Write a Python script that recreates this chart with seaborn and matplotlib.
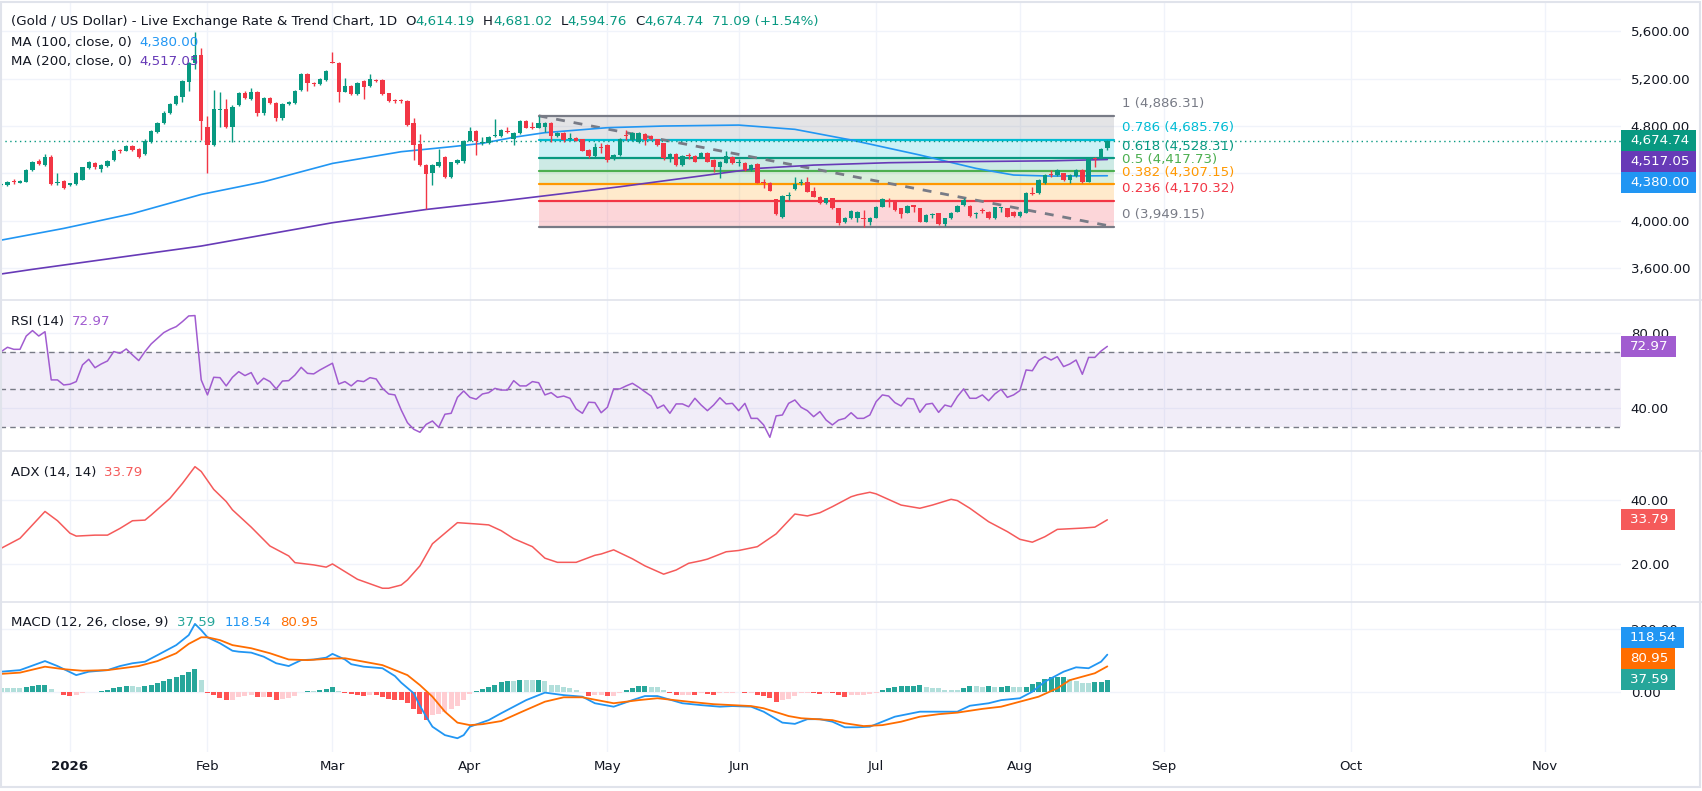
import numpy as np
import pandas as pd
import matplotlib
matplotlib.use("Agg")
import matplotlib.pyplot as plt
from matplotlib.lines import Line2D
from matplotlib.patches import Rectangle
import seaborn as sns

# ---- values: gold / USD, daily bars ----
first_day = "2025-12-17"
last_day = "2026-08-21"

opens = [
    4305, 4301, 4332, 4321, 4330, 4428, 4507, 4472, 4541, 4320,
    4338, 4300, 4310, 4345, 4442, 4490, 4440, 4462, 4512, 4595,
    4591, 4631, 4608, 4560, 4667, 4752, 4822, 4907, 4986, 5048,
    5169, 5329, 5400, 4794, 4639, 4935, 4941, 4794, 4977, 5081,
    5028, 5084, 4912, 5039, 4991, 4865, 4990, 4997, 5104, 5239,
    5160, 5152, 5188, 5345, 5335, 5090, 5138, 5070, 5183, 5138,
    5190, 5188, 5076, 5015, 5011, 5011, 4822, 4645, 4470, 4405,
    4462, 4541, 4372, 4490, 4507, 4676, 4757, 4653, 4659, 4715,
    4718, 4755, 4687, 4738, 4845, 4792, 4786, 4790, 4828, 4718,
    4744, 4690, 4701, 4687, 4597, 4546, 4620, 4639, 4518, 4555,
    4728, 4682, 4668, 4732, 4716, 4687, 4654, 4527, 4563, 4470,
    4549, 4546, 4541, 4575, 4513, 4451, 4490, 4541, 4487, 4490,
    4428, 4479, 4325, 4321, 4180, 4028, 4210, 4265, 4322, 4330,
    4254, 4203, 4146, 4189, 4104, 3986, 4020, 4020, 4024, 3992,
    4025, 4118, 4165, 4161, 4104, 4068, 4126, 4104, 3992, 4045,
    4062, 3969, 4020, 4076, 4132, 4124, 4053, 4088, 4076, 4020,
    4110, 4104, 4076, 4039, 4068, 4234, 4231, 4315, 4390, 4386,
    4400, 4344, 4377, 4428, 4330, 4530, 4527, 4614.19,
]
highs = [
    4318, 4335, 4350, 4348, 4440, 4505, 4520, 4560, 4555, 4400,
    4345, 4322, 4410, 4455, 4505, 4500, 4480, 4515, 4610, 4610,
    4640, 4640, 4615, 4690, 4770, 4830, 4930, 4995, 5060, 5190,
    5345, 5597, 5456, 4884, 5104, 5090, 5028, 4975, 5090, 5095,
    5118, 5095, 5048, 5048, 5000, 4995, 5010, 5105, 5250, 5250,
    5170, 5205, 5275, 5422, 5340, 5210, 5145, 5170, 5190, 5239,
    5200, 5200, 5080, 5028, 5025, 5020, 4865, 4732, 4480, 4478,
    4603, 4550, 4500, 4525, 4685, 4794, 4765, 4710, 4712, 4856,
    4775, 4794, 4750, 4855, 4850, 4837, 4886.31, 4835, 4835, 4752,
    4750, 4738, 4708, 4692, 4602, 4654, 4654, 4645, 4560, 4695,
    4766, 4752, 4752, 4738, 4722, 4692, 4660, 4570, 4570, 4552,
    4575, 4552, 4582, 4580, 4520, 4505, 4592, 4548, 4518, 4495,
    4480, 4485, 4349, 4328, 4185, 4217, 4245, 4366, 4349, 4372,
    4287, 4208, 4195, 4195, 4110, 4028, 4092, 4082, 4090, 4028,
    4125, 4189, 4189, 4168, 4110, 4130, 4132, 4110, 4055, 4068,
    4068, 4026, 4075, 4132, 4189, 4130, 4076, 4104, 4082, 4118,
    4118, 4110, 4082, 4082, 4245, 4287, 4350, 4392, 4428, 4435,
    4405, 4392, 4435, 4435, 4535, 4541, 4618, 4681.02,
]
lows = [
    4295, 4296, 4312, 4315, 4325, 4420, 4472, 4465, 4300, 4305,
    4268, 4292, 4305, 4340, 4435, 4440, 4414, 4455, 4505, 4575,
    4585, 4590, 4530, 4555, 4660, 4745, 4815, 4900, 4980, 5005,
    5100, 5280, 4681, 4400, 4630, 4794, 4780, 4667, 4970, 5025,
    5020, 4884, 4893, 4985, 4845, 4855, 4980, 4990, 5098, 5098,
    5140, 5145, 5180, 5329, 5005, 5085, 5060, 5062, 5025, 5130,
    5170, 5060, 5005, 4997, 4995, 4800, 4512, 4460, 4095, 4301,
    4455, 4360, 4365, 4480, 4484, 4670, 4555, 4640, 4650, 4705,
    4710, 4738, 4639, 4730, 4780, 4775, 4780, 4752, 4668, 4710,
    4668, 4685, 4670, 4585, 4527, 4540, 4569, 4499, 4510, 4550,
    4682, 4676, 4660, 4639, 4680, 4632, 4513, 4499, 4465, 4462,
    4518, 4495, 4535, 4495, 4414, 4363, 4485, 4480, 4462, 4422,
    4420, 4315, 4273, 4248, 4050, 4020, 4175, 4258, 4301, 4240,
    4198, 4140, 4140, 4100, 3963, 3980, 4015, 3992, 3949.15, 3963,
    4020, 4112, 4118, 4085, 4020, 4062, 4076, 3986, 3986, 4020,
    3963, 3955, 4015, 4070, 4126, 4034, 4020, 4062, 4015, 4015,
    4076, 4028, 4034, 4034, 4062, 4217, 4225, 4310, 4366, 4380,
    4338, 4315, 4370, 4322, 4325, 4456, 4520, 4594.76,
]
closes = [
    4312, 4327, 4325, 4338, 4428, 4496, 4480, 4541, 4310, 4330,
    4273, 4315, 4400, 4450, 4498, 4450, 4473, 4507, 4591, 4585,
    4631, 4597, 4541, 4676, 4760, 4822, 4912, 4986, 5053, 5183,
    5329, 5400, 4845, 4639, 4943, 4943, 4794, 4963, 5081, 5034,
    5087, 4912, 5039, 4991, 4865, 4986, 4997, 5098, 5239, 5160,
    5155, 5197, 5265, 5335, 5090, 5138, 5070, 5160, 5132, 5197,
    5180, 5070, 5014, 5008, 5008, 4808, 4639, 4470, 4394, 4470,
    4498, 4372, 4493, 4512, 4676, 4757, 4676, 4660, 4704, 4724,
    4766, 4748, 4744, 4845, 4786, 4786, 4828, 4826, 4716, 4744,
    4682, 4698, 4676, 4592, 4549, 4620, 4615, 4513, 4555, 4687,
    4718, 4738, 4744, 4682, 4687, 4639, 4527, 4563, 4470, 4546,
    4543, 4499, 4575, 4499, 4451, 4499, 4546, 4485, 4492, 4428,
    4473, 4321, 4318, 4254, 4056, 4208, 4216, 4310, 4326, 4245,
    4203, 4146, 4189, 4104, 3983, 4020, 4085, 4076, 4018, 4020,
    4118, 4180, 4158, 4090, 4056, 4124, 4120, 3992, 4048, 4050,
    3969, 4020, 4068, 4124, 4175, 4039, 4058, 4082, 4020, 4113,
    4115, 4034, 4039, 4076, 4237, 4228, 4344, 4386, 4384, 4428,
    4344, 4386, 4428, 4330, 4527, 4522, 4603.65, 4674.74,
]

# moving averages, sampled at bar numbers (0 = first bar shown)
ma100_bar = [0, 10, 21, 32, 42, 53, 64, 72, 77, 82, 87, 97, 106, 118, 127, 136, 147, 156, 162, 168, 177]
ma100_val = [3836, 3935, 4060, 4222, 4329, 4484, 4583, 4625, 4654, 4705, 4744, 4786, 4800, 4808, 4772,
             4682, 4555, 4442, 4386, 4377, 4380.00]
ma200_bar = [0, 5, 32, 53, 68, 80, 99, 121, 130, 142, 154, 168, 177]
ma200_val = [3550, 3589, 3786, 3983, 4095, 4166, 4287, 4442, 4470, 4490, 4499, 4506, 4517.05]

# fibonacci retracement drawn on the chart
fib_high = 4886.31
fib_low = 3949.15
fib_ratios = [1, 0.786, 0.618, 0.5, 0.382, 0.236, 0]
fib_from_bar = 86
fib_to_bar = 178

rsi = [
    70.2, 72.5, 71.4, 71.4, 78.5, 81.4, 78.5, 80.8, 55.1, 55.1,
    52.4, 52.8, 54.2, 63.1, 66.1, 61.6, 63.6, 65.2, 70.2, 69.3,
    71.6, 68.4, 65.4, 70.2, 74.3, 77.3, 80.3, 82.1, 83.5, 86.2,
    89.2, 89.4, 55.1, 47.1, 56.5, 56.3, 51.9, 56.5, 59.5, 57.4,
    59.0, 52.8, 56.0, 54.2, 50.3, 54.5, 54.7, 57.7, 61.8, 58.6,
    58.3, 60.4, 62.2, 64.0, 52.9, 54.2, 51.9, 54.7, 54.2, 56.3,
    55.6, 50.6, 47.6, 47.1, 39.1, 32.3, 28.8, 27.2, 31.4, 33.2,
    29.8, 36.8, 37.3, 45.8, 49.2, 45.8, 44.8, 47.6, 48.3, 50.6,
    49.7, 49.7, 54.7, 51.9, 51.9, 54.2, 53.6, 47.1, 48.3, 45.8,
    46.5, 45.3, 39.6, 37.3, 43.2, 43.0, 37.6, 40.5, 50.3, 50.3,
    51.9, 53.3, 51.2, 48.8, 46.5, 40.0, 41.7, 37.3, 42.3, 42.3,
    40.8, 45.3, 41.7, 38.7, 41.7, 45.6, 42.3, 42.6, 38.7, 42.6,
    34.6, 34.6, 31.1, 24.5, 35.9, 36.4, 42.6, 44.4, 40.5, 38.7,
    35.5, 38.2, 33.7, 31.1, 33.7, 34.6, 37.6, 34.6, 34.6, 36.4,
    43.5, 47.1, 46.5, 43.0, 41.2, 45.3, 44.9, 37.8, 42.1, 42.6,
    37.8, 41.7, 40.8, 46.2, 50.3, 45.3, 45.3, 47.1, 44.0, 47.6,
    50.1, 45.8, 47.1, 49.4, 60.4, 60.0, 65.4, 67.5, 65.7, 67.5,
    62.2, 63.6, 65.7, 58.1, 67.1, 67.1, 70.5, 72.97,
]

adx_bar = [0, 3, 7, 9, 11, 12, 15, 17, 19, 21, 23, 24, 27, 29, 31, 32, 34, 36, 37, 40,
           43, 46, 47, 50, 52, 53, 55, 57, 61, 62, 64, 65, 67, 69, 71, 73, 76, 78, 80, 82,
           85, 87, 89, 92, 95, 96, 98, 101, 103, 106, 108, 110, 112, 113, 116, 118, 121, 124, 127, 129,
           131, 133, 136, 137, 139, 140, 144, 147, 149, 152, 153, 155, 158, 161, 163, 165, 167, 169, 171, 173,
           175, 177]
adx_val = [24.9, 28.0, 36.4, 33.5, 29.6, 28.7, 29.0, 29.0, 31.1, 33.5, 33.7, 35.3, 40.5, 45.2, 50.4, 48.9, 43.3, 39.5, 36.9, 31.5,
           25.6, 22.5, 20.4, 19.7, 19.0, 20.0, 17.6, 15.2, 12.4, 12.4, 13.4, 15.0, 19.4, 26.3, 29.6, 32.9, 32.5, 32.2, 30.4, 27.9,
           25.4, 21.8, 20.5, 20.5, 22.7, 23.1, 24.4, 21.6, 19.4, 16.8, 18.1, 20.2, 21.0, 21.5, 23.8, 24.2, 25.4, 29.4, 35.6, 35.0,
           36.0, 37.9, 41.0, 41.6, 42.4, 41.9, 38.4, 37.4, 38.4, 40.2, 39.8, 37.4, 33.2, 30.1, 27.7, 26.8, 28.5, 30.8, 31.0, 31.2,
           31.5, 33.79]

macd_bar = [0, 3, 7, 9, 12, 14, 17, 19, 21, 23, 25, 28, 30, 31, 32, 33, 35, 37, 38, 40,
            42, 44, 46, 48, 50, 52, 53, 55, 56, 58, 61, 63, 64, 66, 67, 68, 69, 71, 73, 74,
            75, 78, 80, 82, 84, 87, 90, 93, 95, 98, 101, 103, 105, 109, 112, 115, 117, 120, 122, 125,
            127, 129, 131, 133, 135, 137, 139, 141, 143, 145, 147, 150, 153, 155, 158, 160, 163, 165, 167, 170,
            172, 174, 176, 177]
macd_val = [64, 69, 98, 82, 53, 64, 69, 82, 91, 96, 117, 149, 181, 217, 197, 174, 155, 131, 128, 125,
            112, 91, 82, 101, 103, 109, 121, 103, 88, 80, 75, 50, 29, -5, -45, -80, -112, -139, -149, -139,
            -112, -91, -69, -48, -27, -3, -11, -16, -37, -48, -27, -14, -14, -37, -43, -48, -46, -48, -64, -99,
            -103, -88, -88, -96, -114, -114, -112, -96, -80, -72, -64, -64, -64, -45, -37, -27, -21, 0, 32, 64,
            78, 75, 96, 118.54]
signal_bar = [0, 3, 7, 10, 13, 17, 22, 25, 28, 30, 32, 33, 35, 37, 40, 43, 46, 49, 53, 55,
              58, 61, 63, 65, 67, 69, 71, 73, 75, 77, 80, 83, 87, 90, 93, 98, 102, 105, 110, 114,
              120, 122, 126, 128, 133, 135, 138, 141, 144, 147, 150, 153, 157, 160, 163, 166, 169, 171, 175, 177]
signal_val = [57, 61, 80, 72, 67, 69, 82, 98, 123, 153, 174, 174, 165, 149, 139, 123, 103, 101, 106, 107,
              96, 85, 69, 53, 21, -16, -64, -99, -107, -104, -94, -67, -32, -18, -18, -37, -27, -21, -32, -40,
              -46, -53, -78, -85, -91, -101, -110, -107, -96, -80, -72, -67, -55, -48, -32, -16, 11, 37, 59, 80.95]
macd_hist = [
    12, 11, 11, 11, 15, 18, 20, 22, 10,
    -2, -11, -14, -11, -3, -2, -1, 2, 5, 11, 16, 18, 18, 14, 18, 21, 29, 35, 40, 48, 53, 64, 72, 37,
    -3, -10, -20, -28, -26, -16, -14, -12, -16, -16, -18, -26, -22, -20, -14, -2, 3, 3, 5, 8,
    16, 3, -3, -8, -12, -14, -10, -12, -18, -22, -25, -28, -36, -55, -70, -90, -75, -70, -65, -55,
    -45, -25, -6, 3, 10, 15, 20,
    30, 34, 34, 37, 37, 37, 38, 34, 23, 21,
    14, 11, 5, -2, -14, -11, -11, -14, -14, -5,
    5, 11, 18, 19, 16, 14, 5, -5, -11, -11,
    -11, -12, -5, -7, -11, -5, -3, -3, -2, -3,
    -3, -11, -14, -21, -32, -27, -24, -14, -3, -3,
    -5, -7, -3, -5, -11, -16, -11, -11, -11, -7,
    -5, 5, 12, 16,
    18, 19, 19.5, 20, 14, 13, 12, 7, 6.5, 6, 11, 18, 17, 16, 18, 15, 16, 18, 15,
    15, 15.5, 24, 32, 42, 47, 47.5, 48, 41, 35, 29, 27, 31, 31.5, 37.59,
]

month_names = ["2026", "Feb", "Mar", "Apr", "May", "Jun", "Jul", "Aug", "Sep", "Oct", "Nov"]
month_starts = ["2026-01-01", "2026-02-01", "2026-03-01", "2026-04-01", "2026-05-01", "2026-06-01",
                "2026-07-01", "2026-08-01", "2026-09-01", "2026-10-01", "2026-11-01"]
price_ticks = [3600, 4000, 4400, 4800, 5200, 5600]
price_hidden = [4400]          # label covered by the value tags on the scale
rsi_ticks = [40, 80]
rsi_lines = [30, 50, 70]
adx_ticks = [20, 40]
macd_ticks = [0, 200]

# ---- styling ----
sns.set_theme(style="white")
plt.rcParams["font.family"] = ["DejaVu Sans"]

W, H = 1702, 791
PLOT_R = 1621
FS = 9.6
TEXT = "#131722"
GRID = "#f0f3fa"
SEP = "#e0e3eb"
UP = "#089981"
DOWN = "#f23645"
MA100_C = "#2196f3"
MA200_C = "#673ab7"
RSI_C = "#a15cd0"
ADX_C = "#f55a5a"
MACD_C = "#2196f3"
SIG_C = "#ff6d00"
FIB_C = ["#787b86", "#00bcd4", "#089981", "#4caf50", "#ff9800", "#f23645", "#787b86"]
XLIM = (-0.2, 259.2)

days = pd.bdate_range(first_day, last_day)
n = len(days)
bars = np.arange(n)
next_session = days[-1] + pd.offsets.BDay(1)


def bar_of(date):
    d = pd.Timestamp(date)
    if d <= days[-1]:
        return int(days.searchsorted(d))
    # the empty future area runs on calendar days
    return n + (d - next_session).days


month_pos = [bar_of(d) for d in month_starts]

fig = plt.figure(figsize=(W / 100, H / 100), dpi=100)
renderer = fig.canvas.get_renderer()


def panel(top, bottom, ylim, yticks, hidden=()):
    ax = fig.add_axes([0, 1 - bottom / H, PLOT_R / W, (bottom - top) / H])
    ax.set_xlim(XLIM)
    ax.set_ylim(ylim)
    ax.set_facecolor("white")
    for s in ax.spines.values():
        s.set_visible(False)
    for p in month_pos:
        ax.axvline(p, color=GRID, lw=1, zorder=0)
    for t in yticks:
        ax.axhline(t, color=GRID, lw=1, zorder=0)
    ax.yaxis.tick_right()
    ax.set_yticks(yticks)
    ax.set_yticklabels(["" if t in hidden else f"{t:,.2f}" for t in yticks])
    ax.tick_params(axis="y", length=0, pad=7, labelsize=FS, labelcolor=TEXT)
    ax.set_xticks([])
    return ax


def legend_line(y_top, parts):
    x = 11
    for txt, colr, gap in parts:
        t = fig.text(x / W, 1 - y_top / H, txt, color=colr, fontsize=FS, va="center", ha="left", zorder=7)
        x += t.get_window_extent(renderer).width + gap


def side_tags(ax, items, downward, height=21):
    # value tags on the price scale, pushed apart so they do not overlap
    items = sorted(items, key=lambda it: -it[0])
    ys = [ax.transData.transform((0, v))[1] for v, _ in items]
    if downward:
        for k in range(1, len(ys)):
            ys[k] = min(ys[k], ys[k - 1] - height)
    else:
        for k in range(len(ys) - 2, -1, -1):
            ys[k] = max(ys[k], ys[k + 1] + height)
    for (v, colr), yp in zip(items, ys):
        t = fig.text((PLOT_R + 9) / W, yp / H, f"{v:,.2f}", color="white", fontsize=FS,
                     va="center", ha="left", zorder=6)
        w = t.get_window_extent(renderer).width
        fig.add_artist(Rectangle((PLOT_R / W, (yp - height / 2) / H), (w + 16) / W, height / H,
                                 transform=fig.transFigure, fc=colr, ec="none", zorder=5))


# ---- price pane ----
ax_p = panel(2, 300, (3330, 5848), price_ticks, price_hidden)

span = fib_high - fib_low
levels = [fib_low + r * span for r in fib_ratios]
for k in range(len(levels) - 1):
    ax_p.fill_between([fib_from_bar, fib_to_bar], levels[k + 1], levels[k],
                      color=FIB_C[k], alpha=0.2, lw=0, zorder=1)
for r, lv, colr in zip(fib_ratios, levels, FIB_C):
    ax_p.plot([fib_from_bar, fib_to_bar], [lv, lv], color=colr, lw=1.6, zorder=2)
    ax_p.annotate(f"{r:g} ({lv:,.2f})", xy=(fib_to_bar, lv), xytext=(6, 8.6), textcoords="offset points",
                  color=colr, fontsize=FS, va="center", ha="left", annotation_clip=False)
ax_p.plot([fib_from_bar, fib_to_bar], [fib_high, fib_low], color="#787b86", lw=2,
          dashes=(3.2, 3.2), zorder=3)

sns.lineplot(x=ma100_bar, y=ma100_val, ax=ax_p, color=MA100_C, linewidth=1.2, zorder=3)
sns.lineplot(x=ma200_bar, y=ma200_val, ax=ax_p, color=MA200_C, linewidth=1.2, zorder=3)

o, h, l, c = map(np.asarray, (opens, highs, lows, closes))
candle_col = np.where(c >= o, UP, DOWN)
ax_p.vlines(bars, l, h, colors=candle_col, lw=1, zorder=5)
ax_p.bar(bars, np.maximum(np.abs(c - o), 9), bottom=np.minimum(o, c), width=0.7,
         color=candle_col, lw=0, zorder=6)
ax_p.axhline(c[-1], color=UP, lw=1, ls=(0, (1, 2.5)), zorder=4)
ax_p.set_xlabel("")
ax_p.set_ylabel("")

# ---- RSI pane ----
ax_r = panel(300, 451, (17.2, 97.7), rsi_ticks)
ax_r.axhspan(rsi_lines[0], rsi_lines[-1], color="#7e57c2", alpha=0.1, lw=0, zorder=1)
for v in rsi_lines:
    ax_r.axhline(v, color="#787b86", lw=1, dashes=(4, 3), zorder=2)
sns.lineplot(x=bars, y=rsi, ax=ax_r, color=RSI_C, linewidth=1.1, zorder=3)
ax_r.set_xlabel("")
ax_r.set_ylabel("")

# ---- ADX pane ----
ax_a = panel(451, 602, (8.1, 55.3), adx_ticks)
sns.lineplot(x=adx_bar, y=adx_val, ax=ax_a, color=ADX_C, linewidth=1.1, zorder=3)
ax_a.set_xlabel("")
ax_a.set_ylabel("")

# ---- MACD pane ----
ax_m = panel(602, 752, (-193, 287), macd_ticks)
hist = np.asarray(macd_hist, dtype=float)
prev = np.r_[hist[0], hist[:-1]]
hist_col = np.where(hist >= 0,
                    np.where(hist > prev, "#26a69a", "#b2dfdb"),
                    np.where(hist < prev, "#ff5252", "#ffcdd2"))
ax_m.bar(bars, hist, width=0.8, color=hist_col, lw=0, zorder=2)
sns.lineplot(x=macd_bar, y=macd_val, ax=ax_m, color=MACD_C, linewidth=1.3, zorder=3)
sns.lineplot(x=signal_bar, y=signal_val, ax=ax_m, color=SIG_C, linewidth=1.3, zorder=3)
ax_m.set_xlabel("")
ax_m.set_ylabel("")
ax_m.set_xticks(month_pos)
ax_m.set_xticklabels(month_names)
ax_m.tick_params(axis="x", length=0, pad=6, labelsize=FS, labelcolor=TEXT, labelbottom=True)
for lbl in ax_m.get_xticklabels():
    if lbl.get_text() == "2026":
        lbl.set_fontweight("bold")

# pane separators and outer frame
for yp in (300, 451, 602):
    fig.add_artist(Line2D([0, 1], [1 - yp / H] * 2, color=SEP, lw=1.2, transform=fig.transFigure))
fig.add_artist(Rectangle((1 / W, 4 / H), (W - 3) / W, (H - 6) / H, transform=fig.transFigure,
                         fill=False, ec=SEP, lw=1.5))

# ---- legends ----
chg = closes[-1] - closes[-2]
pct = chg / closes[-2] * 100
legend_line(21.7, [
    ("(Gold / US Dollar) - Live Exchange Rate & Trend Chart, 1D", TEXT, 8),
    ("O", TEXT, 0), (f"{opens[-1]:,.2f}", UP, 8),
    ("H", TEXT, 0), (f"{highs[-1]:,.2f}", UP, 8),
    ("L", TEXT, 0), (f"{lows[-1]:,.2f}", UP, 8),
    ("C", TEXT, 0), (f"{closes[-1]:,.2f}", UP, 8),
    (f"{chg:,.2f} ({pct:+.2f}%)", UP, 0),
])
legend_line(42.7, [("MA (100, close, 0)", TEXT, 8), (f"{ma100_val[-1]:,.2f}", MA100_C, 0)])
legend_line(61.7, [("MA (200, close, 0)", TEXT, 8), (f"{ma200_val[-1]:,.2f}", MA200_C, 0)])
legend_line(321.7, [("RSI (14)", TEXT, 8), (f"{rsi[-1]:.2f}", RSI_C, 0)])
legend_line(472.3, [("ADX (14, 14)", TEXT, 8), (f"{adx_val[-1]:.2f}", ADX_C, 0)])
legend_line(622.7, [("MACD (12, 26, close, 9)", TEXT, 9), (f"{macd_hist[-1]:.2f}", "#26a69a", 9),
                    (f"{macd_val[-1]:.2f}", MACD_C, 9), (f"{signal_val[-1]:.2f}", SIG_C, 0)])

# ---- value tags on the right scale ----
side_tags(ax_p, [(closes[-1], UP), (ma200_val[-1], MA200_C), (ma100_val[-1], MA100_C)], downward=True)
side_tags(ax_r, [(rsi[-1], RSI_C)], downward=True)
side_tags(ax_a, [(adx_val[-1], ADX_C)], downward=True)
side_tags(ax_m, [(macd_val[-1], MACD_C), (signal_val[-1], SIG_C), (macd_hist[-1], "#26a69a")], downward=False)

fig.savefig("out.png", dpi=100)
